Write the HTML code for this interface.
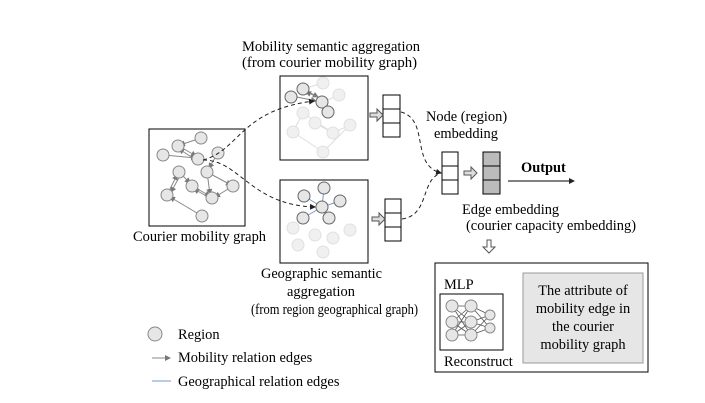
<!DOCTYPE html><html><head><style>body{margin:0;background:#fff}svg{display:block}text{font-family:"Liberation Serif",serif;font-size:14.4px;fill:#000}</style></head><body>
<svg width="705" height="403" viewBox="0 0 705 403">
<defs><marker id="a" markerWidth="6" markerHeight="6" refX="5" refY="3" orient="auto"><path d="M0,0L6,3L0,6z" fill="#777"/></marker>
<marker id="b" markerWidth="6" markerHeight="6" refX="5" refY="3" orient="auto"><path d="M0,0L6,3L0,6z" fill="#222"/></marker></defs>
<text x="242" y="51" textLength="178" lengthAdjust="spacingAndGlyphs">Mobility semantic aggregation</text>
<text x="242" y="67" textLength="175" lengthAdjust="spacingAndGlyphs">(from courier mobility graph)</text>
<rect x="149" y="129" width="96" height="97" fill="#fff" stroke="#000"/>
<g stroke="#888" fill="none" marker-end="url(#a)">
<path d="M201,138L180,145"/><path d="M164,155L196,158"/><path d="M179,146L196,156"/><path d="M196,160L179,149"/><path d="M218,153L209,168"/><path d="M207,172L210,194"/><path d="M207,172L231,185"/><path d="M233,186L215,197"/><path d="M202,216L170,197"/><path d="M167,195L177,175"/><path d="M181,174L171,192"/><path d="M192,186L210,196"/><path d="M210,198L194,189"/><path d="M179,172L190,183"/></g>
<g fill="#e6e6e6" stroke="#888"><circle cx="201" cy="138" r="6"/><circle cx="178" cy="146" r="6"/><circle cx="163" cy="155" r="6"/><circle cx="198" cy="159" r="6"/><circle cx="218" cy="153" r="6"/><circle cx="207" cy="172" r="6"/><circle cx="179" cy="172" r="6"/><circle cx="192" cy="186" r="6"/><circle cx="167" cy="195" r="6"/><circle cx="212" cy="198" r="6"/><circle cx="233" cy="186" r="6"/><circle cx="202" cy="216" r="6"/></g>
<text x="133" y="241" textLength="133" lengthAdjust="spacingAndGlyphs">Courier mobility graph</text>
<rect x="280" y="76" width="88" height="84" fill="#fff" stroke="#000"/>
<g stroke="#ddd" fill="none"><path d="M303,113L293,132M315,123L333,133M333,133L350,125M293,132L323,152M323,152L350,125M323,102L339,95M303,89L323,83M303,113L333,133"/></g>
<g fill="#f0f0f0" stroke="#e0e0e0"><circle cx="323" cy="83" r="6"/><circle cx="339" cy="95" r="6"/><circle cx="303" cy="113" r="6"/><circle cx="315" cy="123" r="6"/><circle cx="293" cy="132" r="6"/><circle cx="333" cy="133" r="6"/><circle cx="350" cy="125" r="6"/><circle cx="323" cy="152" r="6"/></g>
<g stroke="#888" fill="none" marker-end="url(#a)"><path d="M297,97L316,101"/><path d="M303,89L318,97"/><path d="M320,98L306,92"/><path d="M322,102L327,106"/></g>
<g fill="#e6e6e6" stroke="#666"><circle cx="291" cy="97" r="6"/><circle cx="303" cy="89" r="6"/><circle cx="322" cy="102" r="6"/><circle cx="328" cy="112" r="6"/></g>
<rect x="280" y="180" width="88" height="83" fill="#fff" stroke="#000"/>
<g fill="#f0f0f0" stroke="#e0e0e0"><circle cx="293" cy="228" r="6"/><circle cx="315" cy="235" r="6"/><circle cx="333" cy="238" r="6"/><circle cx="350" cy="230" r="6"/><circle cx="323" cy="252" r="6"/><circle cx="298" cy="245" r="6"/></g>
<g stroke="#7a96d6"><path d="M322,207L324,188M322,207L304,196M322,207L340,201M322,207L329,218M322,207L303,218"/></g>
<g fill="#e6e6e6" stroke="#666"><circle cx="322" cy="207" r="6"/><circle cx="324" cy="188" r="6"/><circle cx="304" cy="196" r="6"/><circle cx="340" cy="201" r="6"/><circle cx="329" cy="218" r="6"/><circle cx="303" cy="218" r="6"/></g>
<g stroke="#222" fill="none" stroke-dasharray="4,3"><path d="M203,160C240,150 240,110 314,101" marker-end="url(#b)"/><path d="M203,160C240,160 250,205 315,207" marker-end="url(#b)"/>
<path d="M401,112C430,120 410,165 441,173" marker-end="url(#b)"/><path d="M402,219C430,215 420,180 441,173"/></g>
<g fill="#fff" stroke="#000"><rect x="383" y="95" width="17" height="14"/><rect x="383" y="109" width="17" height="14"/><rect x="383" y="123" width="17" height="14"/>
<rect x="385" y="199" width="16" height="14"/><rect x="385" y="213" width="16" height="14"/><rect x="385" y="227" width="16" height="14"/>
<rect x="442" y="152" width="16" height="14"/><rect x="442" y="166" width="16" height="14"/><rect x="442" y="180" width="16" height="14"/></g>
<g fill="#bbb" stroke="#000"><rect x="483" y="152" width="17" height="14"/><rect x="483" y="166" width="17" height="14"/><rect x="483" y="180" width="17" height="14"/></g>
<g fill="#ddd" stroke="#555"><path d="M370,113h7v-4l6,6l-6,6v-4h-7z"/><path d="M372,217h7v-4l6,6l-6,6v-4h-7z"/><path d="M464,171h7v-4l6,6l-6,6v-4h-7z"/><path d="M503,321h7v-4l6,6l-6,6v-4h-7z" fill="#fff"/><path d="M487,240v7h-4l6,6l6,-6h-4v-7z" fill="#fff"/></g>
<text x="426" y="121">Node (region)</text><text x="434" y="138">embedding</text>
<text x="521" y="172" style="font-weight:bold">Output</text>
<path d="M508,181H574" stroke="#000" marker-end="url(#b)"/>
<text x="462" y="214">Edge embedding</text><text x="466" y="230" textLength="170" lengthAdjust="spacingAndGlyphs">(courier capacity embedding)</text>
<text x="261" y="278" textLength="121" lengthAdjust="spacingAndGlyphs">Geographic semantic</text><text x="287" y="296">aggregation</text><text x="251" y="314" textLength="167" lengthAdjust="spacingAndGlyphs">(from region geographical graph)</text>
<rect x="435" y="263" width="213" height="109" fill="#fff" stroke="#000"/>
<text x="444" y="289">MLP</text>
<rect x="440" y="294" width="63" height="56" fill="#fff" stroke="#000"/>
<g stroke="#555" stroke-width="0.8"><path d="M452,306L471,306M452,306L471,322M452,306L471,335M452,322L471,306M452,322L471,322M452,322L471,335M452,335L471,306M452,335L471,322M452,335L471,335M471,306L490,315M471,306L490,328M471,322L490,315M471,322L490,328M471,335L490,315M471,335L490,328"/></g>
<g fill="#e6e6e6" stroke="#888"><circle cx="452" cy="306" r="6"/><circle cx="452" cy="322" r="6"/><circle cx="452" cy="335" r="6"/><circle cx="471" cy="306" r="6"/><circle cx="471" cy="322" r="6"/><circle cx="471" cy="335" r="6"/><circle cx="490" cy="315" r="5"/><circle cx="490" cy="328" r="5"/></g>
<text x="444" y="366">Reconstruct</text>
<rect x="523" y="273" width="120" height="90" fill="#e6e6e6" stroke="#999"/>
<g text-anchor="middle"><text x="583" y="295">The attribute of</text><text x="583" y="313">mobility edge in</text><text x="583" y="331">the courier</text><text x="583" y="349">mobility graph</text></g>
<circle cx="155" cy="334" r="7" fill="#e6e6e6" stroke="#888"/><text x="178" y="339">Region</text>
<path d="M152,358H170" stroke="#888" marker-end="url(#a)"/><text x="178" y="362">Mobility relation edges</text>
<path d="M152,381H171" stroke="#7a96d6"/><text x="178" y="386">Geographical relation edges</text>
</svg></body></html>
